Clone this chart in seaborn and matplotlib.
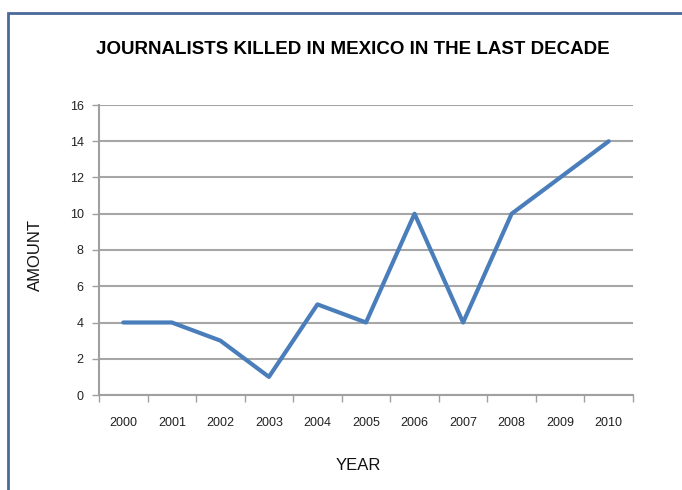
import matplotlib
matplotlib.use("Agg")
import matplotlib.pyplot as plt
from matplotlib.patches import Rectangle
from matplotlib import font_manager
import seaborn as sns
import numpy as np
import pandas as pd

years = ["2000", "2001", "2002", "2003", "2004", "2005", "2006", "2007", "2008", "2009", "2010"]
amount = [4, 4, 3, 1, 5, 4, 10, 4, 10, 12, 14]
y_ticks = [0, 2, 4, 6, 8, 10, 12, 14, 16]

sns.set_theme(style="white")
names = {f.name for f in font_manager.fontManager.ttflist}
fam = "Liberation Sans Narrow" if "Liberation Sans Narrow" in names else "Liberation Sans"
plt.rcParams["font.family"] = [fam, "DejaVu Sans"]

df = pd.DataFrame({"year": years, "amount": amount})

fig = plt.figure(figsize=(6.82, 4.90), dpi=100)
ax = fig.add_axes([99/682, 1 - 395/490, (633-99)/682, (395-105)/490])

sns.lineplot(data=df, x="year", y="amount", ax=ax, color="#4a7ebb", linewidth=3, sort=False)

ax.set_ylim(0, 16)
ax.set_xlim(-0.5, len(years) - 0.5)
ax.set_yticks(y_ticks)
ax.set_yticklabels([str(v) for v in y_ticks], fontsize=9, color="#222222")
ax.set_xticks(range(len(years)))
ax.set_xticklabels(years, fontsize=9, color="#222222")
ax.set_xticks(np.arange(-0.5, len(years), 1.0), minor=True)
ax.tick_params(axis="x", which="major", length=0, pad=16)
ax.tick_params(axis="x", which="minor", length=5, width=1, color="#a0a0a0", direction="out", bottom=True)
ax.tick_params(axis="y", which="major", length=5, width=1, color="#a0a0a0", direction="out", left=True, pad=6)

ax.yaxis.grid(True, color="#a6a6a6", linewidth=1.5)
ax.xaxis.grid(False)
ax.set_axisbelow(True)
for s in ["top", "right"]:
    ax.spines[s].set_visible(False)
for s in ["left", "bottom"]:
    ax.spines[s].set_visible(True)
    ax.spines[s].set_color("#a0a0a0")
    ax.spines[s].set_linewidth(1.5)

ax.set_xlabel("")
ax.set_ylabel("")
fig.text(358/682, 1 - 465/490, "YEAR", ha="center", va="center", fontsize=12, color="#111111")
fig.text(35/682, 1 - 255/490, "AMOUNT", ha="center", va="center", rotation=90, fontsize=12, color="#111111")
fig.text(353/682, 1 - 50/490, "JOURNALISTS KILLED IN MEXICO IN THE LAST DECADE",
         ha="center", va="center", fontsize=13.5, fontweight="bold", color="#000000")

fig.patches.append(Rectangle((8/682, -0.1), 1.2, 1 - 13/490 + 0.1, transform=fig.transFigure,
                             fill=False, edgecolor="#4a6a9c", linewidth=2))

fig.savefig("out.png", dpi=100, facecolor="white")
